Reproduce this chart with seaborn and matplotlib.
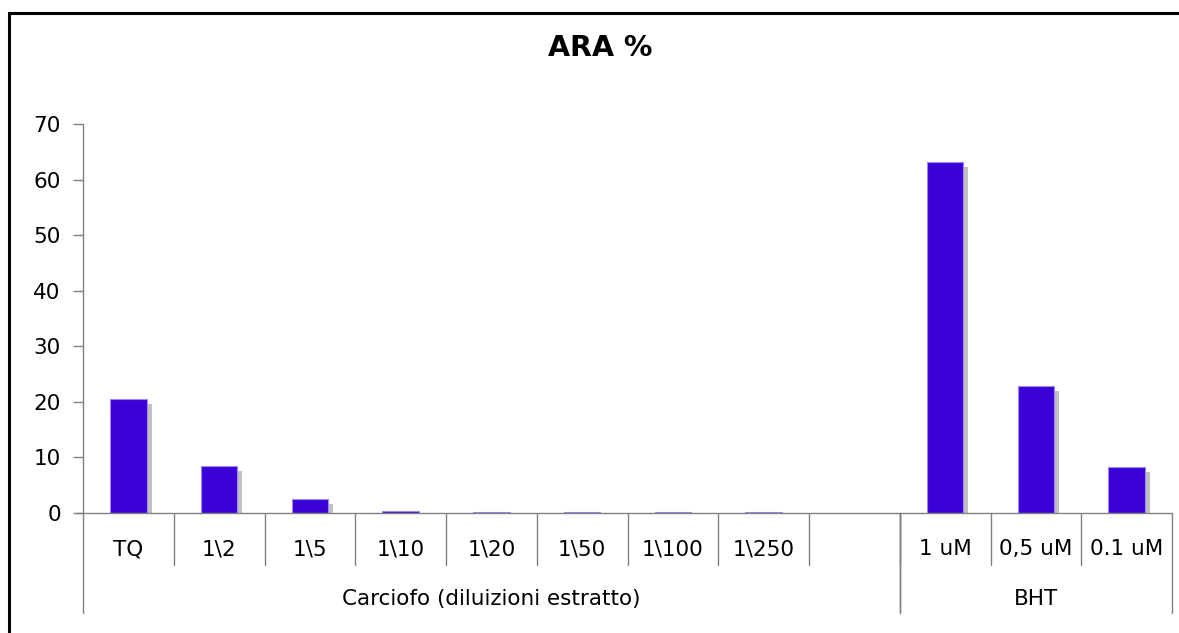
import matplotlib
matplotlib.use("Agg")
import matplotlib.pyplot as plt
import matplotlib.transforms as mtransforms
from matplotlib.patches import Rectangle
import seaborn as sns
import pandas as pd

sns.set_theme(style="white")
plt.rcParams['font.family'] = ['DejaVu Sans']
plt.rcParams['text.color'] = 'black'

# dati
categories = ["TQ", "1\\2", "1\\5", "1\\10", "1\\20", "1\\50", "1\\100", "1\\250",
              "", "1 uM", "0,5 uM", "0.1 uM"]
values = [20.5, 8.4, 2.5, 0.35, 0.25, 0.15, 0.15, 0.1, None, 63.2, 22.8, 8.3]
groups = ["Carciofo (diluizioni estratto)", "BHT"]
group_span = [(0, 9), (9, 12)]  # indici delle categorie per gruppo
yticks = [0, 10, 20, 30, 40, 50, 60, 70]

keys = [f"c{i}" for i in range(len(categories))]
df = pd.DataFrame({"key": keys, "val": values}).dropna()

BAR = "#3a00d8"
SHADOW = "#c0c0c0"
GRID = "#808080"
FS = 15.5

fig = plt.figure(figsize=(11.79, 6.33), dpi=100)
ax = fig.add_axes([83 / 1179, 1 - 513 / 633, (1172 - 83) / 1179, 389 / 633])

# ombra delle barre (spostata a destra e in basso)
sns.barplot(data=df, x="key", y="val", order=keys, color=SHADOW, width=0.4,
            saturation=1, ax=ax, errorbar=None)
shadow_tr = mtransforms.offset_copy(ax.transData, fig=fig, x=5, y=-5, units="dots")
for p in ax.patches:
    p.set_transform(shadow_tr)
    p.set_edgecolor("none")
n_shadow = len(ax.patches)

sns.barplot(data=df, x="key", y="val", order=keys, color=BAR, width=0.4,
            saturation=1, ax=ax, errorbar=None)
for p in ax.patches[n_shadow:]:
    p.set_edgecolor("#9c88f0")
    p.set_linewidth(0.8)

ax.set_xlim(-0.5, len(categories) - 0.5)
ax.set_ylim(0, 70)
ax.set_yticks(yticks)
ax.set_xticks([])
ax.set_xlabel("")
ax.set_ylabel("")
for s in ["top", "right", "bottom"]:
    ax.spines[s].set_visible(False)
ax.spines["left"].set_color(GRID)
ax.spines["left"].set_linewidth(1)
ax.tick_params(axis="y", left=True, length=7, width=1, color=GRID, pad=9,
               labelsize=FS, labelcolor="black")

# asse x con etichette a due livelli
blend = mtransforms.blended_transform_factory(ax.transData, ax.transAxes)
ax.plot([-0.5 - 0.08, len(categories) - 0.5], [0, 0], color=GRID, lw=1,
        transform=blend, clip_on=False)
for i, lab in enumerate(categories):
    ax.text(i, -0.093, lab, transform=blend, ha="center", va="center",
            fontsize=FS, color="black")
for i in range(1, len(categories)):
    ax.plot([i - 0.5, i - 0.5], [0, -0.134], color=GRID, lw=1,
            transform=blend, clip_on=False)
for (a, b), g in zip(group_span, groups):
    ax.text((a + b - 1) / 2, -0.222, g, transform=blend, ha="center",
            va="center", fontsize=FS, color="black")
    for edge in (a - 0.5, b - 0.5):
        ax.plot([edge, edge], [0, -0.257], color=GRID, lw=1,
                transform=blend, clip_on=False)

fig.text(600 / 1179, 1 - 48 / 633, "ARA %", ha="center", va="center",
         fontsize=20.5, fontweight="bold", color="black")

# cornice del grafico
fig.patches.append(Rectangle((9.5 / 1179, -0.1), 1.2, 1 - 13 / 633 + 0.1,
                             transform=fig.transFigure, fill=False,
                             edgecolor="black", linewidth=2.2))

fig.savefig("out.png", dpi=100)
